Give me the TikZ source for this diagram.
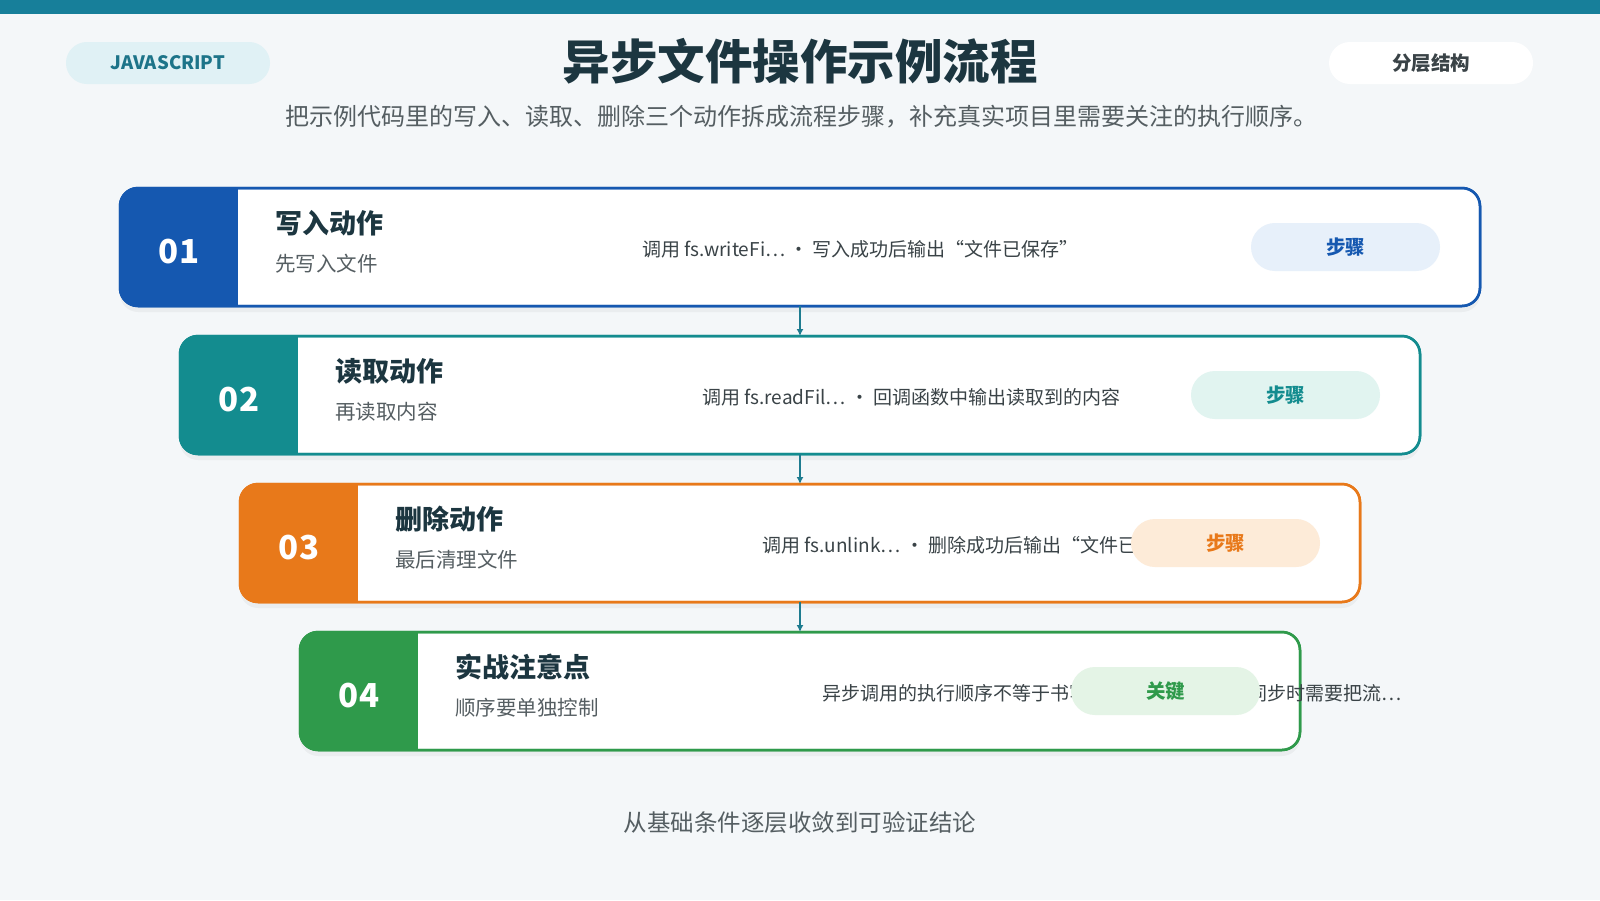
\documentclass[tikz,border=0pt]{standalone}
\usepackage{fontspec}
\setmainfont{Noto Sans CJK SC}
\usepackage{xcolor}
\usepackage{tikz}
\usetikzlibrary{arrows.meta, positioning, shadows}

\definecolor{pagebg}{HTML}{F4F7F9}
\definecolor{topbar}{HTML}{177F9A}
\definecolor{chipbg}{HTML}{E0F1F5}
\definecolor{chipink}{HTML}{1D7489}
\definecolor{inkdark}{HTML}{1C3640}
\definecolor{inkgray}{HTML}{555E62}
\definecolor{inkmid}{HTML}{3A4347}
\definecolor{stepblue}{HTML}{1558B0}
\definecolor{stepteal}{HTML}{138C8F}
\definecolor{steporange}{HTML}{E8791A}
\definecolor{stepgreen}{HTML}{2F9A4B}
\definecolor{tagblue}{HTML}{E7F0FA}
\definecolor{tagteal}{HTML}{E1F4F0}
\definecolor{tagorange}{HTML}{FDEBD8}
\definecolor{taggreen}{HTML}{E4F4E6}
\definecolor{flowline}{HTML}{1E7C90}

\begin{document}
\begin{tikzpicture}[
  x=1pt, y=-1pt,
  >=Latex,
  card/.style={
    draw,
    fill=white,
    line width=2.5pt,
    rounded corners=18pt,
    minimum height=118pt,
    outer sep=0pt,
    inner sep=0pt,
    drop shadow={opacity=0.08, shadow xshift=0pt, shadow yshift=-6pt}
  },
  numlabel/.style={font=\fontsize{33}{36}\selectfont\bfseries, text=white},
  steptitle/.style={anchor=west, font=\fontsize{27}{32}\selectfont\bfseries, text=inkdark, inner sep=0pt},
  stepsub/.style={anchor=west, font=\fontsize{20.5}{24}\selectfont, text=inkgray, inner sep=0pt},
  desc/.style={anchor=west, font=\fontsize{19}{23}\selectfont, text=inkmid, inner sep=0pt},
  tag/.style={
    rounded corners=23.9pt,
    minimum width=189pt,
    minimum height=48pt,
    inner sep=0pt,
    font=\fontsize{19.5}{23}\selectfont\bfseries
  },
  headpill/.style={
    rounded corners=20.9pt,
    minimum width=204pt,
    minimum height=42pt,
    inner sep=0pt
  },
  flow/.style={-{Latex[length=7pt, width=7pt]}, line width=2pt, draw=flowline}
]

\useasboundingbox (0,0) rectangle (1600,900);
\fill[pagebg] (0,0) rectangle (1600,900);
\fill[topbar] (0,0) rectangle (1600,14);

% Header: language chip, title, view chip and the lead line.
\node[headpill, fill=chipbg, text=chipink,
  font=\fontsize{18.5}{22}\selectfont\bfseries] (lang) at (168,63) {JAVASCRIPT};
\node[headpill, fill=white, text=inkmid,
  font=\fontsize{19.5}{22}\selectfont\bfseries] (layer) at (1431,63) {分层结构};
\node[font=\fontsize{47.5}{56}\selectfont\bfseries, text=inkdark] (title) at (800,61) {异步文件操作示例流程};
\node[font=\fontsize{24}{28}\selectfont, text=inkgray] (lead) at (801,117)
  {把示例代码里的写入、读取、删除三个动作拆成流程步骤，补充真实项目里需要关注的执行顺序。};

% Step cards, each a bit narrower than the one above.
\node[card, draw=stepblue, minimum width=1360pt] (card1) at (800,247) {};
\node[card, draw=stepteal, minimum width=1240pt] (card2) at (800,395) {};
\node[card, draw=steporange, minimum width=1120pt] (card3) at (800,543) {};
\node[card, draw=stepgreen, minimum width=1000pt] (card4) at (800,691) {};

% Coloured number blocks on the left edge of the cards.
\begin{scope}
  \clip[rounded corners=18pt] (card1.south west) rectangle (card1.north east);
  \fill[stepblue] (card1.south west) rectangle ([xshift=118pt]card1.north west);
\end{scope}
\begin{scope}
  \clip[rounded corners=18pt] (card2.south west) rectangle (card2.north east);
  \fill[stepteal] (card2.south west) rectangle ([xshift=118pt]card2.north west);
\end{scope}
\begin{scope}
  \clip[rounded corners=18pt] (card3.south west) rectangle (card3.north east);
  \fill[steporange] (card3.south west) rectangle ([xshift=118pt]card3.north west);
\end{scope}
\begin{scope}
  \clip[rounded corners=18pt] (card4.south west) rectangle (card4.north east);
  \fill[stepgreen] (card4.south west) rectangle ([xshift=118pt]card4.north west);
\end{scope}
\draw[stepblue, line width=2.5pt, rounded corners=18pt] (card1.south west) rectangle (card1.north east);
\draw[stepteal, line width=2.5pt, rounded corners=18pt] (card2.south west) rectangle (card2.north east);
\draw[steporange, line width=2.5pt, rounded corners=18pt] (card3.south west) rectangle (card3.north east);
\draw[stepgreen, line width=2.5pt, rounded corners=18pt] (card4.south west) rectangle (card4.north east);

\node[numlabel] (num1) at ([xshift=59pt, yshift=-5pt]card1.west) {01};
\node[numlabel] (num2) at ([xshift=59pt, yshift=-5pt]card2.west) {02};
\node[numlabel] (num3) at ([xshift=59pt, yshift=-5pt]card3.west) {03};
\node[numlabel] (num4) at ([xshift=59pt, yshift=-5pt]card4.west) {04};

% Step 1: write.
\node[steptitle] (head1) at ([xshift=155pt, yshift=24pt]card1.west) {写入动作};
\node[stepsub] (sub1) at ([xshift=155pt, yshift=-17pt]card1.west) {先写入文件};
\node[desc] (desc1) at ([xshift=522pt, yshift=-2pt]card1.west)
  {调用 fs.writeFi… · 写入成功后输出“文件已保存”};
\node[tag, fill=tagblue, text=stepblue] (tag1) at ([xshift=-134.5pt]card1.east) {步骤};

% Step 2: read.
\node[steptitle] (head2) at ([xshift=155pt, yshift=24pt]card2.west) {读取动作};
\node[stepsub] (sub2) at ([xshift=155pt, yshift=-17pt]card2.west) {再读取内容};
\node[desc] (desc2) at ([xshift=522pt, yshift=-2pt]card2.west)
  {调用 fs.readFil… · 回调函数中输出读取到的内容};
\node[tag, fill=tagteal, text=stepteal] (tag2) at ([xshift=-134.5pt]card2.east) {步骤};

% Step 3: delete (the chip sits over the end of the line).
\node[steptitle] (head3) at ([xshift=155pt, yshift=24pt]card3.west) {删除动作};
\node[stepsub] (sub3) at ([xshift=155pt, yshift=-17pt]card3.west) {最后清理文件};
\node[desc] (desc3) at ([xshift=522pt, yshift=-2pt]card3.west)
  {调用 fs.unlink… · 删除成功后输出“文件已删除”};
\node[tag, fill=tagorange, text=steporange] (tag3) at ([xshift=-134.5pt]card3.east) {步骤};

% Step 4: practical note, its line runs past the card.
\node[steptitle] (head4) at ([xshift=155pt, yshift=24pt]card4.west) {实战注意点};
\node[stepsub] (sub4) at ([xshift=155pt, yshift=-17pt]card4.west) {顺序要单独控制};
\node[desc] (desc4) at ([xshift=522pt, yshift=-2pt]card4.west)
  {异步调用的执行顺序不等于书写顺序 · 需要更严格同步时需要把流…};
\node[tag, fill=taggreen, text=stepgreen] (tag4) at ([xshift=-134.5pt]card4.east) {关键};

% Flow between the cards.
\draw[flow] (card1.south) -- (card2.north);
\draw[flow] (card2.south) -- (card3.north);
\draw[flow] (card3.south) -- (card4.north);

% Closing line.
\node[font=\fontsize{23.5}{28}\selectfont, text=inkgray] (closing) at (800,823)
  {从基础条件逐层收敛到可验证结论};

\end{tikzpicture}
\end{document}
